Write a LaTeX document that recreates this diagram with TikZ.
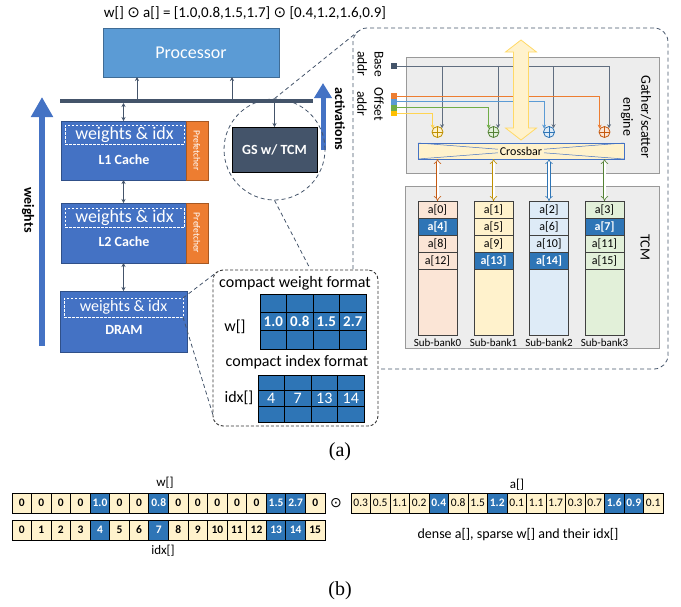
\documentclass[tikz,border=0pt]{standalone}
\usepackage{fontspec}
\setmainfont{Carlito}
\newfontfamily\dejavu{DejaVu Sans}
\newfontfamily\timesf{Liberation Serif}
\usetikzlibrary{arrows.meta,calc}
\newcommand\fsz[2]{\fontsize{#1pt}{#2pt}\selectfont}
\definecolor{procblue}{HTML}{5B9BD5}
\definecolor{cacheblue}{HTML}{4472C4}
\definecolor{cellblue}{HTML}{2E75B6}
\definecolor{slate}{HTML}{44546A}
\definecolor{pref}{HTML}{ED7D31}
\definecolor{lyellow}{HTML}{FFF2CC}
\definecolor{lorange}{HTML}{FBE5D6}
\definecolor{lblue}{HTML}{DEEBF7}
\definecolor{lgreen}{HTML}{E2F0D9}
\definecolor{cbrown}{HTML}{C55A11}
\definecolor{cgold}{HTML}{BF9000}
\definecolor{cgreen}{HTML}{548235}
\definecolor{ogreen}{HTML}{70AD47}
\definecolor{oyellow}{HTML}{FFC000}
\definecolor{panelgrey}{HTML}{EDEDED}
\definecolor{yedge}{HTML}{FFD966}
\begin{document}
\begin{tikzpicture}[x=1pt,y=-1pt,
  bx/.style={draw, inner sep=0pt, outer sep=0pt},
  cache/.style={bx, fill=cacheblue, draw=cacheblue!70!black, minimum width=125pt, line width=0.8pt},
  preft/.style={bx, fill=pref, draw=pref!70!black, text=white, font=\fsz{9.5}{11}, rotate=-90, minimum height=22pt, line width=0.8pt},
  inbox/.style={bx, draw=white, dash pattern=on 2.5pt off 1.5pt, line width=0.8pt, text=white, minimum width=119pt, minimum height=19pt},
  clbl/.style={text=white, font=\bfseries\fsz{14}{16}, inner sep=0pt},
  conn/.style={draw=slate, line width=1pt},
  tip/.style={-{Stealth[length=4pt,width=4pt]}},
  dtip/.style={{Stealth[length=4pt,width=4pt]}-{Stealth[length=4pt,width=4pt]}},
  dline/.style={draw=slate, line width=0.8pt, dash pattern=on 4pt off 3pt},
  gcell/.style={bx, fill=cellblue, draw=black, line width=0.8pt, minimum width=26.5pt, text=white},
  greybox/.style={bx, fill=panelgrey, draw=black!40, line width=0.8pt},
  bline/.style={draw=slate!85, line width=0.8pt},
  oline/.style={line width=0.8pt},
  bankbox/.style={bx, draw=black!75, line width=0.8pt, minimum width=39pt},
  bcell/.style={bx, draw=black, line width=1pt, minimum width=19.56pt, minimum height=20pt, font=\bfseries\fsz{11.5}{13}},
  acell/.style={bx, draw=black, line width=1pt, minimum width=19.5pt, minimum height=20pt, font=\fsz{11.5}{13}}
]
\useasboundingbox (0,0) rectangle (681,606);

% title
\node[font=\fsz{15}{18}] (title) at (245,13) {w[] {\dejavu ⊙} a[] = [1.0,0.8,1.5,1.7] {\dejavu ⊙} [0.4,1.2,1.6,0.9]};

% processor and bus
\node[bx, fill=procblue, draw=procblue!70!black, line width=0.8pt, minimum width=176pt, minimum height=49pt, text=white, font=\fsz{18}{20}] (proc) at (191,52.5) {Processor};
\coordinate (busL) at (60,101);
\coordinate (busR) at (313,101);
\draw[slate, line width=4pt] (busL) -- (busR);
\coordinate (b1) at (137,99);
\coordinate (b2) at (232,99);
\coordinate (b3) at (123.5,103);
\coordinate (b4) at (274.5,103);
\draw[conn,tip] (b1) -- (b1 |- proc.south);
\draw[conn,tip] (b2) -- (b2 |- proc.south);

% caches
\node[cache, minimum height=59pt] (l1) at (123.5,150.5) {};
\node[preft, minimum width=59pt] (p1) at (197,150.5) {Prefetcher};
\node[inbox, font=\fsz{18}{20}] (l1in) at (124.5,134.5) {weights \& idx};
\node[clbl] (l1t) at (124,160) {L1 Cache};

\node[cache, minimum height=60pt] (l2) at (123.5,233) {};
\node[preft, minimum width=60pt] (p2) at (197,233) {Prefetcher};
\node[inbox, font=\fsz{18}{20}] (l2in) at (124.5,218) {weights \& idx};
\node[clbl] (l2t) at (124,242) {L2 Cache};

\node[cache, minimum width=127pt, minimum height=61pt] (dram) at (123.5,321.5) {};
\node[inbox, font=\fsz{16}{18}] (dramin) at (123.5,307.5) {weights \& idx};
\node[clbl] (dramt) at (124,330) {DRAM};

\draw[conn,dtip] (b3) -- (l1.north);
\draw[conn,dtip] (l1.south) -- (l2.north);
\draw[conn,dtip] (l2.south) -- (dram.north);

% weights arrow
\coordinate (wb) at (42,346);
\coordinate (wt) at (42,97);
\draw[cacheblue, line width=6pt, -{Triangle[width=21pt,length=20pt]}] (wb) -- (wt);
\node[rotate=-90, font=\bfseries\fsz{14}{16}] (wlbl) at (28,210) {weights};

% activations arrow
\coordinate (ab) at (323,150);
\coordinate (at) at (323,83);
\draw[cacheblue, line width=5pt, -{Triangle[width=17pt,length=15pt]}] (ab) -- (at);
\node[rotate=-90, font=\bfseries\fsz{14}{16}] (albl) at (340,119) {activations};

% GS
\node[bx, fill=slate, minimum width=85pt, minimum height=45pt, font=\bfseries\fsz{14}{16}, text=white] (gs) at (274.5,149.5) {GS w/ TCM};
\node[circle, dline, minimum size=101pt, inner sep=0pt] (gscirc) at (274.5,149.5) {};
\draw[conn,tip] (b4) -- (gs.north);

% big panel
\node[dline, rounded corners=14pt, minimum width=315pt, minimum height=341pt, inner sep=0pt] (panel) at (510.5,198.5) {};
\coordinate (pc) at (358,31.5);
\draw[dline] (gscirc.north) -- (pc);

% connectors to compact box
\coordinate (c1) at (217,272);
\coordinate (c2) at (213,415);
\coordinate (c3) at (310,268.5);
\draw[dline] (dramin.north east) -- (c1);
\draw[dline] (dramin.south east) -- (c2);
\draw[dline] (gscirc.south) -- (c3);

% compact box
\node[bx, fill=white, draw=black!80, dash pattern=on 3pt off 2pt, line width=0.9pt, rounded corners=10pt, minimum width=165pt, minimum height=156pt] (cbox) at (295.5,348) {};
\node[font=\fsz{16}{18}] (cwf) at (295,283) {compact weight format};
\foreach \v [count=\c from 0] in {1.0,0.8,1.5,2.7} {
  \node[gcell, minimum height=18.33pt] (wg\c a) at ({273.25+26.5*\c},303.2) {};
  \node[gcell, minimum height=18.33pt, font=\bfseries\fsz{15}{17}] (wg\c b) at ({273.25+26.5*\c},321.5) {\v};
  \node[gcell, minimum height=18.33pt] (wg\c c) at ({273.25+26.5*\c},339.8) {};
}
\node[font=\fsz{16}{18}] (wl) at (235,327) {w[]};
\node[font=\fsz{16}{18}] (cif) at (297,362) {compact index format};
\foreach \v [count=\c from 0] in {4,7,13,14} {
  \node[gcell, minimum height=15.67pt] (ig\c a) at ({271.25+26.5*\c},382.8) {};
  \node[gcell, minimum height=15.67pt, font=\fsz{16}{18}] (ig\c b) at ({271.25+26.5*\c},398.5) {\v};
  \node[gcell, minimum height=15.67pt] (ig\c c) at ({271.25+26.5*\c},414.2) {};
}
\node[font=\fsz{16}{18}] (il) at (239,398) {idx[]};

% gather / scatter engine
\node[greybox, minimum width=253pt, minimum height=116pt] (ge) at (532.5,115) {};
\node[rotate=-90, align=center, font=\fsz{14}{18}] (gel) at (636,117) {Gather/scatter\\engine};
\node[greybox, minimum width=254pt, minimum height=162pt] (tcm) at (532,267) {};
\node[rotate=-90, font=\fsz{14}{16}] (tcml) at (645,247) {TCM};

\node[rotate=-90, align=center, font=\fsz{13.5}{17}] (bal) at (370.5,64) {Base\\addr};
\node[rotate=-90, align=center, font=\fsz{13.5}{17}] (oal) at (370.5,104) {Offset\\addr};

\node[bx, fill=slate, draw=none, minimum width=6pt, minimum height=6pt] (bsq) at (394,66) {};
\node[bx, fill=pref, draw=none, minimum width=6pt, minimum height=5.8pt] (osq0) at (394,96) {};
\node[bx, fill=procblue, draw=none, minimum width=6pt, minimum height=5.8pt] (osq1) at (394,101.8) {};
\node[bx, fill=ogreen, draw=none, minimum width=6pt, minimum height=5.8pt] (osq2) at (394,107.6) {};
\node[bx, fill=oyellow, draw=none, minimum width=6pt, minimum height=5.8pt] (osq3) at (394,113.4) {};

% adders
\foreach \x/\c/\f [count=\k from 0] in {437.5/cgold/lyellow, 493.5/cgreen/lgreen, 549/cellblue/lblue, 604.5/cbrown/lorange} {
  \node[circle, draw=\c, fill=\f, minimum size=11pt, inner sep=0pt, line width=0.8pt] (add\k) at (\x,132) {};
  \draw[\c, line width=0.7pt] (add\k.north) -- (add\k.south) (add\k.west) -- (add\k.east);
}
\draw[bline] (bsq.east) -- (bsq.east -| add3.40);
\foreach \k in {0,...,3} \draw[bline, tip] (bsq.east -| add\k.40) -- (add\k.40);
\draw[oline, pref, tip] (osq0.east) -| (add3.145);
\draw[oline, procblue, tip] (osq1.east) -| (add2.145);
\draw[oline, ogreen, tip] (osq2.east) -| (add1.145);
\draw[oline, yedge!80!oyellow, tip] (osq3.east) -| (add0.145);

% crossbar
\node[bx, fill=lyellow, draw=cacheblue, line width=0.8pt, minimum width=206pt, minimum height=16pt] (xbar) at (521,151) {};
\draw[cacheblue, line width=0.5pt] (xbar.north west) -- (xbar.south east) (xbar.south west) -- (xbar.north east);
\node[fill=lyellow, inner sep=1.5pt, font=\fsz{12}{14}] (xbl) at (xbar.center) {Crossbar};

% big yellow double arrow
\filldraw[fill=lyellow, draw=yedge, line width=0.8pt] (521,40) -- (536.5,52) -- (528.5,52) -- (528.5,128) -- (536.5,128) -- (521,140) -- (505.5,128) -- (513.5,128) -- (513.5,52) -- (505.5,52) -- cycle;

% banks
\foreach \x/\f/\c [count=\k from 0] in {437.5/lorange/cbrown, 493.5/lyellow/cgold, 549/lblue/cellblue, 604.5/lgreen/cgreen} {
  \node[bankbox, fill=\f, minimum height=134pt] (bank\k) at (\x,268) {};
  \foreach \r in {0,...,3} {
    \pgfmathtruncatemacro\n{\k+4*\r}
    \pgfmathtruncatemacro\hl{(\n==4)||(\n==7)||(\n==13)||(\n==14)}
    \ifnum\hl=1
      \node[bankbox, fill=cellblue, text=white, minimum height=17pt, font=\bfseries\fsz{12}{14}] (cell\n) at (\x,{209.5+17*\r}) {a[\n]};
    \else
      \node[bankbox, fill=\f, minimum height=17pt, font=\fsz{12}{14}] (cell\n) at (\x,{209.5+17*\r}) {a[\n]};
    \fi
  }
  \node[font=\fsz{11}{13}] (sb\k) at (\x,343) {Sub-bank\k};
  \draw[draw=\c, line width=0.6pt, double=white, double distance=2pt, {Implies}-{Implies}] (bank\k.north) -- (bank\k.north |- xbar.south);
}

\node[font=\timesf\fsz{20}{22}] (capa) at (340,452) {(a)};

% (b) rows
\foreach \v [count=\i from 0] in {0,0,0,0,1.0,0,0,0.8,0,0,0,0,0,1.5,2.7,0} {
  \pgfmathtruncatemacro\hl{(\i==4)||(\i==7)||(\i==13)||(\i==14)}
  \ifnum\hl=1 \def\fc{cellblue}\def\tc{white}\else\def\fc{lyellow}\def\tc{black}\fi
  \node[bcell, fill=\fc, text=\tc] (w\i) at ({12+19.5625*(\i+0.5)},503) {\v};
}
\foreach \i in {0,...,15} {
  \pgfmathtruncatemacro\hl{(\i==4)||(\i==7)||(\i==13)||(\i==14)}
  \ifnum\hl=1 \def\fc{cellblue}\def\tc{white}\else\def\fc{lyellow}\def\tc{black}\fi
  \node[bcell, fill=\fc, text=\tc] (x\i) at ({12+19.5625*(\i+0.5)},530) {\i};
}
\foreach \v [count=\i from 0] in {0.3,0.5,1.1,0.2,0.4,0.8,1.5,1.2,0.1,1.1,1.7,0.3,0.7,1.6,0.9,0.1} {
  \pgfmathtruncatemacro\hl{(\i==4)||(\i==7)||(\i==13)||(\i==14)}
  \ifnum\hl=1 \def\fc{cellblue}\def\tc{white}\else\def\fc{lyellow}\def\tc{black}\fi
  \node[acell, fill=\fc, text=\tc] (a\i) at ({351+19.5*(\i+0.5)},503) {\ifnum\hl=1 \bfseries\fi\v};
}
\node[font=\fsz{13}{15}] (wlab) at (165,483) {w[]};
\node[font=\fsz{13}{15}] (ilab) at (163,551) {idx[]};
\node[font=\dejavu\fsz{14}{16}] (odot) at (336,503) {⊙};
\node[font=\fsz{13}{15}] (alab) at (517,485) {a[]};
\node[font=\fsz{14}{16}] (dense) at (518,535) {dense a[], sparse w[] and their idx[]};
\node[font=\timesf\fsz{20}{22}] (capb) at (340,591) {(b)};
\end{tikzpicture}
\end{document}
